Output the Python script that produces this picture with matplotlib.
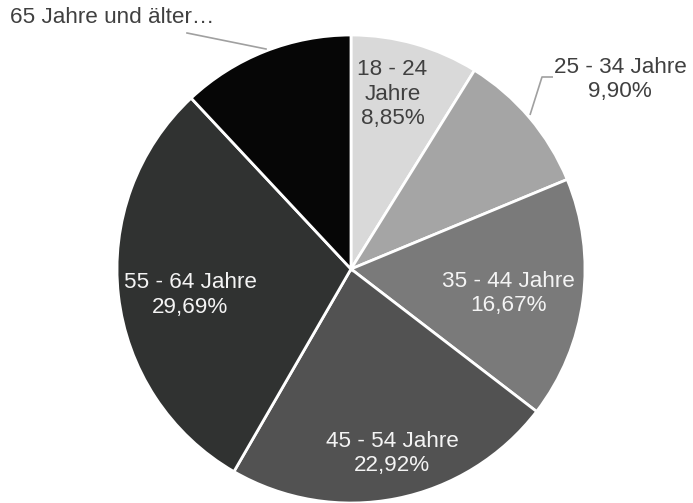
import matplotlib
matplotlib.use("Agg")
import matplotlib.pyplot as plt

plt.rcParams['font.family'] = ['Liberation Sans', 'DejaVu Sans']

categories = ["18 - 24 Jahre", "25 - 34 Jahre", "35 - 44 Jahre",
              "45 - 54 Jahre", "55 - 64 Jahre", "65 Jahre und älter"]
shares = [8.85, 9.90, 16.67, 22.92, 29.69, 11.97]
colors = ["#d9d9d9", "#a5a5a5", "#7a7a7a", "#525252", "#303231", "#060606"]

fig = plt.figure(figsize=(6.93, 5.03), dpi=100)
ax = fig.add_axes([0, 0, 1, 1])

R = 1.0
ax.pie(shares, colors=colors, startangle=90, counterclock=False,
       radius=R, center=(0, 0),
       wedgeprops=dict(edgecolor="white", linewidth=2))

ax.set_xlim(-351 / 234, (693 - 351) / 234)
ax.set_ylim(-(503 - 269) / 234, 269 / 234)
ax.set_aspect("equal")
ax.axis("off")


def pct(v):
    return f"{v:.2f}".replace(".", ",") + "%"


fs = 16.2
ls = 1.22
dark = "#404040"
light = "#f4f4f4"

# labels inside the slices
ax.text(0.177, 0.746, "18 - 24\nJahre\n" + pct(shares[0]), ha="center", va="center",
        fontsize=fs, color=dark, linespacing=ls)
ax.text(0.673, -0.105, categories[2] + "\n" + pct(shares[2]), ha="center", va="center",
        fontsize=fs, color=light, linespacing=ls)
ax.text(0.175, -0.788, categories[3] + "\n" + pct(shares[3]), ha="center", va="center",
        fontsize=fs, color=light, linespacing=ls)
ax.text(-0.688, -0.111, categories[4] + "\n" + pct(shares[4]), ha="center", va="center",
        fontsize=fs, color=light, linespacing=ls)

# outside label with leader line for 25 - 34
ax.text(1.15, 0.81, categories[1] + "\n" + pct(shares[1]), ha="center", va="center",
        fontsize=fs, color=dark, linespacing=ls)
ax.plot([(530 - 351) / 234, (542 - 351) / 234, (553 - 351) / 234],
        [(269 - 115) / 234, (269 - 77) / 234, (269 - 77) / 234],
        color="#a0a0a0", linewidth=1.2, solid_capstyle="butt")

# outside label with leader line for 65+
ax.text(-1.457, 1.073, categories[5] + "…", ha="left", va="center",
        fontsize=fs, color=dark)
ax.plot([(187 - 351) / 234, (266 - 351) / 234],
        [(269 - 33) / 234, (269 - 49) / 234],
        color="#a0a0a0", linewidth=1.2)

fig.savefig("out.png", dpi=100)
